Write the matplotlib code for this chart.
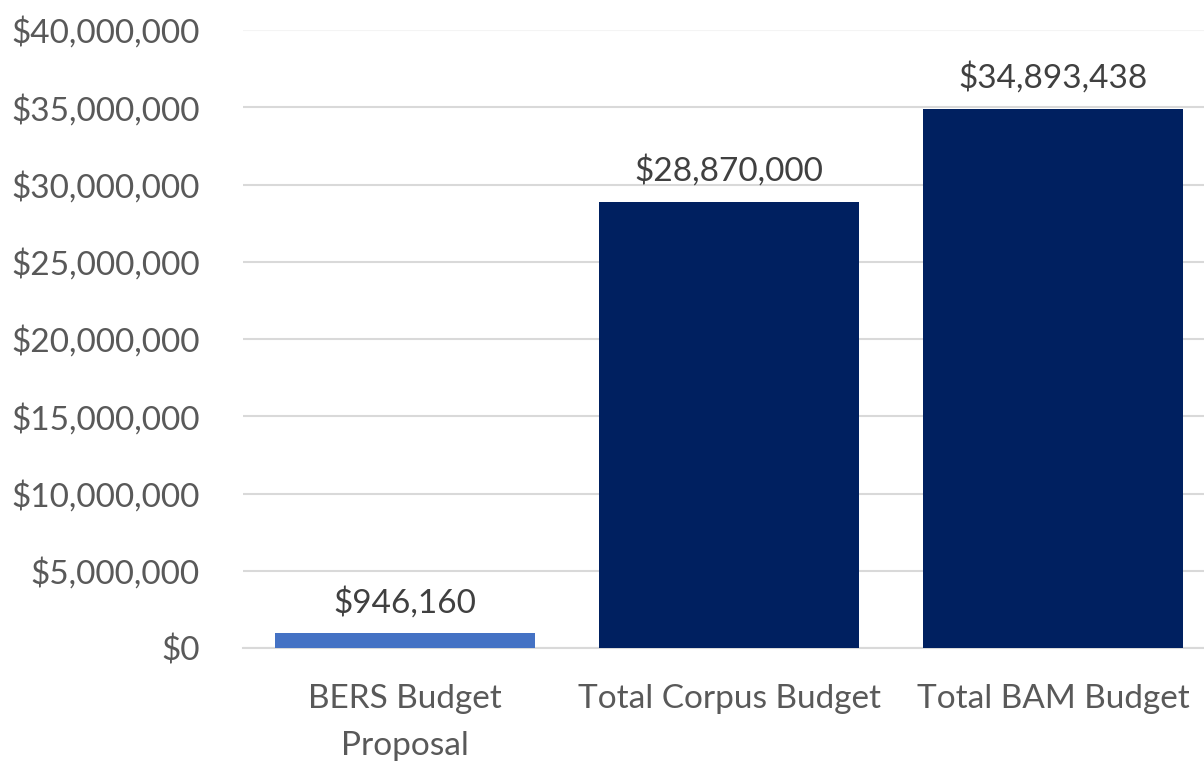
import matplotlib.pyplot as plt
from matplotlib.ticker import FuncFormatter

categories = ['BERS Budget\nProposal', 'Total Corpus Budget', 'Total BAM Budget']
budgets = [946160, 28870000, 34893438]
bar_colors = ['#4472C4', '#002060', '#002060']
y_ticks = [0, 5000000, 10000000, 15000000, 20000000, 25000000, 30000000, 35000000, 40000000]

plt.rcParams['font.family'] = ['Lato', 'DejaVu Sans']

fig = plt.figure(figsize=(12.04, 7.62), dpi=100)
ax = fig.add_axes([243 / 1204, 114 / 762, 961 / 1204, 618 / 762])

x = range(len(categories))
bars = ax.bar(x, budgets, width=0.8, color=bar_colors, zorder=3)

ax.set_xlim(-0.5, -0.5 + 961 / 324)
ax.set_ylim(0, 40000000)
ax.set_yticks(y_ticks)
ax.yaxis.set_major_formatter(FuncFormatter(lambda v, _: '${:,.0f}'.format(v)))
ax.set_xticks(list(x))
ax.set_xticklabels(categories, linespacing=1.7)

ax.grid(axis='y', color='#D9D9D9', linewidth=1.5, zorder=0)
ax.get_ygridlines()[-1].set_color('#F4F4F4')
for side in ['top', 'right', 'left']:
    ax.spines[side].set_visible(False)
ax.spines['bottom'].set_color('#D9D9D9')
ax.spines['bottom'].set_linewidth(1.5)

ax.tick_params(axis='both', length=0, labelsize=24, colors='#595959')
ax.tick_params(axis='y', pad=31)
ax.tick_params(axis='x', pad=26)

for bar, val in zip(bars, budgets):
    ax.annotate('${:,.0f}'.format(val), (bar.get_x() + bar.get_width() / 2, val),
                xytext=(0, 11), textcoords='offset points', ha='center', va='bottom',
                fontsize=24, color='#404040')

plt.savefig('out.png', dpi=100)
